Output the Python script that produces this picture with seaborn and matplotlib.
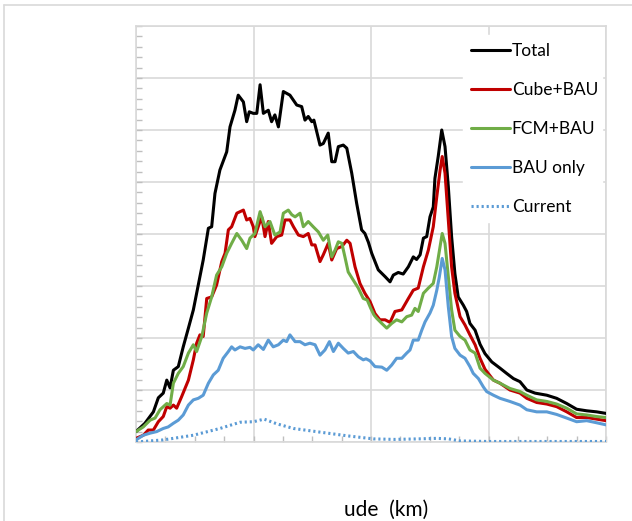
import matplotlib
matplotlib.use("Agg")
import matplotlib.pyplot as plt
from matplotlib.lines import Line2D
from matplotlib.ticker import MultipleLocator, NullFormatter
import seaborn as sns
import pandas as pd

# ---------------- data: (altitude km, value) ----------------
total = [(0, 20), (38, 36), (74, 58), (95, 85), (116, 94), (131, 119), (145, 104), (159, 138),
         (180, 145), (201, 183), (223, 219), (244, 254), (265, 302), (286, 350), (308, 411),
         (322, 414), (336, 478), (357, 523), (386, 558), (400, 606), (421, 638), (435, 667),
         (457, 654), (471, 616), (482, 635), (499, 632), (514, 632), (528, 687), (542, 632),
         (563, 638), (577, 616), (591, 629), (606, 606), (627, 674), (655, 667), (684, 648),
         (705, 645), (719, 619), (733, 626), (748, 616), (757, 619), (783, 571), (797, 574),
         (818, 594), (833, 539), (847, 539), (861, 568), (882, 571), (897, 565), (918, 517),
         (939, 459), (960, 408), (974, 401), (989, 384), (1003, 363), (1031, 331), (1060, 318),
         (1081, 308), (1095, 321), (1116, 326), (1137, 323), (1159, 337), (1180, 356),
         (1194, 351), (1209, 360), (1223, 392), (1237, 395), (1251, 433), (1265, 452),
         (1272, 507), (1286, 549), (1301, 600), (1315, 568), (1329, 491), (1343, 395),
         (1357, 324), (1371, 279), (1393, 263), (1407, 251), (1421, 228), (1443, 215),
         (1464, 188), (1485, 170), (1514, 154), (1549, 142), (1577, 132), (1606, 122),
         (1634, 116), (1663, 100), (1698, 94), (1748, 90), (1790, 84), (1833, 74), (1875, 63),
         (1918, 60), (1960, 58), (2000, 55)]

cube_bau = [(0, 7), (31, 13), (52, 23), (74, 23), (95, 39), (116, 49), (131, 68), (145, 65),
            (159, 71), (173, 65), (194, 87), (223, 119), (244, 158), (258, 190), (272, 206),
            (286, 203), (301, 276), (322, 279), (343, 302), (365, 347), (379, 363), (393, 408),
            (407, 414), (429, 440), (457, 446), (471, 427), (485, 430), (499, 414), (506, 395),
            (520, 414), (535, 433), (549, 395), (563, 424), (577, 382), (599, 395), (620, 398),
            (634, 427), (655, 427), (670, 414), (691, 398), (712, 395), (733, 401), (748, 379),
            (762, 379), (783, 347), (797, 360), (818, 382), (833, 350), (854, 372), (876, 376),
            (897, 388), (911, 382), (932, 337), (953, 305), (974, 286), (996, 270), (1017, 247),
            (1038, 235), (1060, 235), (1081, 230), (1102, 251), (1131, 254), (1159, 276),
            (1180, 292), (1201, 296), (1223, 337), (1244, 369), (1265, 414), (1280, 472),
            (1294, 523), (1303, 549), (1315, 517), (1329, 427), (1343, 337), (1357, 286),
            (1379, 241), (1400, 225), (1421, 206), (1443, 187), (1464, 161), (1485, 140),
            (1521, 119), (1549, 113), (1591, 100), (1634, 94), (1663, 84), (1705, 76),
            (1748, 73), (1790, 68), (1833, 58), (1875, 47), (1918, 47), (1960, 44), (2000, 41)]

fcm_bau = [(0, 20), (31, 29), (60, 42), (81, 46), (102, 62), (131, 74), (145, 71), (159, 113),
           (180, 132), (201, 145), (223, 171), (244, 187), (258, 174), (280, 203), (301, 248),
           (322, 279), (343, 321), (365, 337), (386, 363), (407, 382), (429, 401), (450, 388),
           (471, 372), (485, 392), (506, 401), (528, 443), (549, 414), (570, 424), (591, 398),
           (613, 404), (627, 440), (648, 446), (663, 437), (677, 433), (698, 440), (712, 414),
           (733, 424), (754, 414), (776, 404), (797, 388), (816, 398), (833, 356), (847, 369),
           (861, 385), (876, 382), (889, 356), (903, 327), (925, 311), (946, 296), (967, 276),
           (984, 273), (999, 257), (1013, 244), (1024, 238), (1046, 228), (1067, 219),
           (1088, 228), (1109, 235), (1131, 231), (1152, 241), (1173, 244), (1187, 257),
           (1201, 251), (1223, 286), (1244, 296), (1265, 305), (1280, 337), (1294, 376),
           (1303, 401), (1315, 382), (1329, 318), (1343, 254), (1357, 215), (1379, 203),
           (1400, 196), (1421, 177), (1443, 171), (1464, 142), (1485, 132), (1521, 119),
           (1549, 113), (1591, 103), (1634, 97), (1663, 90), (1705, 81), (1748, 78), (1790, 73),
           (1833, 65), (1875, 54), (1918, 52), (1960, 49), (2000, 47)]

bau_only = [(0, 4), (31, 13), (60, 17), (88, 20), (116, 26), (137, 29), (159, 36), (180, 42),
            (201, 52), (223, 71), (244, 81), (265, 84), (286, 90), (308, 113), (329, 129),
            (350, 138), (371, 161), (393, 174), (407, 183), (421, 177), (443, 183), (464, 180),
            (485, 182), (499, 177), (520, 187), (542, 178), (563, 196), (584, 183), (606, 187),
            (627, 196), (641, 193), (655, 206), (677, 193), (698, 193), (719, 187), (740, 190),
            (762, 187), (783, 167), (804, 177), (823, 193), (840, 174), (861, 190), (882, 180),
            (903, 171), (925, 174), (946, 164), (967, 158), (979, 160), (996, 156), (1017, 145),
            (1046, 144), (1067, 138), (1088, 148), (1109, 161), (1131, 161), (1152, 171),
            (1166, 177), (1180, 196), (1201, 196), (1216, 215), (1230, 231), (1251, 248),
            (1265, 263), (1280, 292), (1291, 318), (1303, 353), (1315, 331), (1329, 260),
            (1343, 203), (1357, 180), (1379, 167), (1400, 161), (1421, 145), (1435, 132),
            (1457, 122), (1478, 106), (1492, 97), (1521, 90), (1549, 84), (1591, 78), (1634, 71),
            (1663, 62), (1705, 58), (1748, 58), (1790, 53), (1833, 46), (1875, 39), (1918, 41),
            (1960, 37), (2000, 33)]

current = [(0, 0), (116, 4), (244, 13), (357, 26), (443, 38), (500, 39), (545, 44), (599, 35),
           (670, 26), (783, 19), (897, 12), (1010, 6), (1100, 5), (1200, 6), (1280, 7),
           (1330, 6), (1380, 2), (1500, 1), (2000, 1)]

series_names = ["Total", "Cube+BAU", "FCM+BAU", "BAU only", "Current"]
series_colors = ["#000000", "#C00000", "#70AD47", "#5B9BD5", "#5B9BD5"]
x_label = "ude  (km)"

# ---------------- figure ----------------
sns.set_theme(style="white")
plt.rcParams["font.family"] = ["Lato", "DejaVu Sans"]

fig = plt.figure(figsize=(6.32, 5.21), dpi=100)
ax = fig.add_axes([136 / 632, 79 / 521, 470 / 632, 416 / 521])

grid_c = "#d9d9d9"
tick_c = "#bfbfbf"

for pts, name, col in zip([total, cube_bau, fcm_bau, bau_only, current],
                          series_names, series_colors):
    df = pd.DataFrame(pts, columns=["alt", "val"])
    ls = (0, (0.7, 0.95)) if name == "Current" else "-"
    sns.lineplot(data=df, x="alt", y="val", ax=ax, color=col, lw=2.2, label=name,
                 linestyle=ls, estimator=None, sort=False, zorder=3)

ax.set_xlim(0, 2000)
ax.set_ylim(0, 800)
ax.xaxis.set_major_locator(MultipleLocator(500))
ax.xaxis.set_minor_locator(MultipleLocator(125))
ax.yaxis.set_major_locator(MultipleLocator(100))
ax.yaxis.set_minor_locator(MultipleLocator(20))
ax.xaxis.set_major_formatter(NullFormatter())
ax.yaxis.set_major_formatter(NullFormatter())
ax.set_xlabel("")
ax.set_ylabel("")
ax.grid(True, which="major", color=grid_c, lw=1.2, zorder=0)
ax.set_axisbelow(True)
ax.tick_params(axis="both", which="both", direction="in", length=4.5, width=1.0,
               color=tick_c, bottom=True, left=True, top=False, right=False)
for s in ax.spines.values():
    s.set_color(grid_c)
    s.set_linewidth(1.2)
    s.set_zorder(1)

leg = ax.legend(loc="upper left", bbox_to_anchor=(0.696, 0.978, 0.296, 0.0),
                mode="expand", borderaxespad=0, frameon=True, fancybox=False,
                fontsize=12.5, handlelength=2.25, handletextpad=0.1,
                labelspacing=1.32, borderpad=0.45)
leg.get_frame().set_facecolor("white")
leg.get_frame().set_edgecolor("white")
leg.get_frame().set_alpha(1.0)
for t in leg.get_texts():
    t.set_color("#000000")

fig.text(386 / 632, 1 - 510 / 521, x_label, ha="center", va="center", fontsize=15,
         color="#000000")

# outer chart frame (partially visible)
fig.add_artist(Line2D([4 / 632, 1.0], [1 - 5 / 521, 1 - 5 / 521], color=grid_c, lw=1.2,
                      transform=fig.transFigure))
fig.add_artist(Line2D([4 / 632, 4 / 632], [0, 1 - 5 / 521], color=grid_c, lw=1.2,
                      transform=fig.transFigure))

fig.savefig("out.png", dpi=100, facecolor="white")
